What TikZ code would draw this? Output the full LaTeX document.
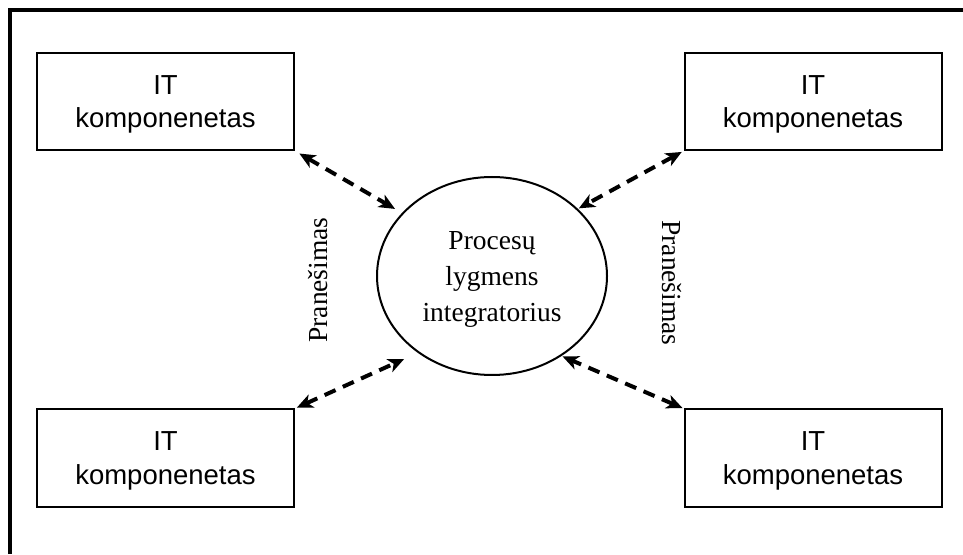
\documentclass[tikz,border=0pt]{standalone}
\usepackage{fontspec}
\setmainfont{Liberation Serif}
\newfontfamily\boxfont{Liberation Sans}
\usetikzlibrary{arrows.meta,shapes.geometric}
\begin{document}
\begin{tikzpicture}[x=1pt,y=1pt,
  component/.style={draw,line width=2pt,minimum width=257pt,minimum height=97pt,
    inner sep=0pt,align=center,text depth=0pt,font=\boxfont\fontsize{27.5}{33.5}\selectfont},
  integrator/.style={draw,ellipse,line width=2pt,minimum width=230pt,minimum height=198pt,
    inner sep=0pt,align=center,text depth=0pt,font=\fontsize{27.5}{36}\selectfont},
  msg/.style={line width=4pt,dash pattern=on 12pt off 8pt,
    {Stealth[length=16pt,width=14pt,inset=4.5pt]}-{Stealth[length=16pt,width=14pt,inset=4.5pt]}},
  note/.style={font=\fontsize{27.5}{33}\selectfont,inner sep=0pt}]
\useasboundingbox (0,0) rectangle (963,554);
% outer frame (top and left edges)
\draw[line width=4pt] (10,0) -- (10,544) -- (963,544);

% IT components
\node[component] (tl) at (165.5,452.5) {IT\\komponenetas};
\node[component] (tr) at (813,452.5) {IT\\komponenetas};
\node[component] (bl) at (165.5,96) {IT\\komponenetas};
\node[component] (br) at (813,96) {IT\\komponenetas};

% process-level integrator
\node[integrator] (core) at (492,278) {Procesų\\lygmens\\integratorius};

% message labels
\node[note,rotate=90] (msgL) at (318,274) {Pranešimas};
\node[note,rotate=-90] (msgR) at (672,271) {Pranešimas};

% message exchange
\draw[msg,shorten <=5pt,shorten >=8pt] (tl.south east) -- (core.145.5);
\draw[msg,shorten <=2pt,shorten >=1pt] (tr.south west) -- (core.38.7);
\draw[msg,shorten <=2pt,shorten >=15pt] (bl.north east) -- (core.226.6);
\draw[msg,shorten <=1pt,shorten >=1pt] (br.north west) -- (core.311.5);
\end{tikzpicture}
\end{document}
